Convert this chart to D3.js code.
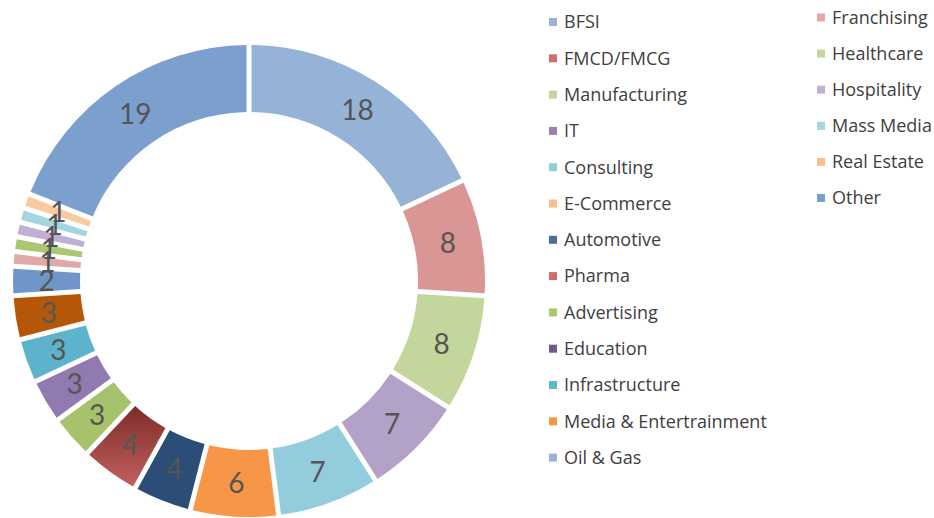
<!DOCTYPE html>
<html>
<head>
<meta charset="utf-8">
<script src="https://cdn.jsdelivr.net/npm/d3@7"></script>
<style>
  body { margin: 0; background: #fff; }
  text { font-family: Lato, "Open Sans", sans-serif; }
</style>
</head>
<body>
<div id="chart"></div>
<script>
// Chart data
const categories = ["BFSI", "FMCD/FMCG", "Manufacturing", "IT", "Consulting", "E-Commerce",
  "Automotive", "Pharma", "Advertising", "Education", "Infrastructure", "Media & Entertrainment",
  "Oil & Gas", "Franchising", "Healthcare", "Hospitality", "Mass Media", "Real Estate", "Other"];
const values = [18, 8, 8, 7, 7, 6, 4, 4, 3, 3, 3, 3, 2, 1, 1, 1, 1, 1, 19];

// slice fills and legend swatches don't match in the original, so keep both
const sliceColors = ["#95b3d7", "#d99694", "#c3d69b", "#b3a2c7", "#93cddd", "#f79646",
  "#2c4d75", "url(#pharmaGrad)", "#a6c36b", "#917aaf", "#5db3cb", "#b65708",
  "#7095c9", "#e0a9a8", "#a8c770", "#bfb0d4", "#a5d5e1", "#f9c9a0", "#7ba0cd"];
const legendColors = ["#95b3d7", "#d46b6a", "#c3d69b", "#9a80b7", "#93cddd", "#fabf8f",
  "#4a6c9c", "#d46b6a", "#a9c66c", "#6f5790", "#5bb6ce", "#f79646", "#95b3d7",
  "#e6a9a9", "#c3d69b", "#bfb0d4", "#a5d5e1", "#fabf8f", "#7ba0cd"];

const width = 934;
const height = 518;

const svg = d3.select("#chart")
    .append("svg")
    .attr("width", width)
    .attr("height", height);

// gradient on the Pharma slice
const grad = svg.append("defs").append("linearGradient")
    .attr("id", "pharmaGrad")
    .attr("x1", 0).attr("y1", 0).attr("x2", 0).attr("y2", 1);
grad.append("stop").attr("offset", "0%").attr("stop-color", "#7d2c2a");
grad.append("stop").attr("offset", "100%").attr("stop-color", "#c2605e");

const cx = 249, cy = 281;
const outerR = 236, innerR = 169;

const pie = d3.pie().sort(null).value(d => d.value);
const arc = d3.arc()
    .innerRadius(innerR)
    .outerRadius(outerR)
    .padAngle(0.025)
    .padRadius(200);

const data = categories.map((c, i) => ({ name: c, value: values[i], color: sliceColors[i] }));
const arcs = pie(data);

const g = svg.append("g").attr("transform", `translate(${cx},${cy})`);

g.selectAll("path")
    .data(arcs)
    .enter().append("path")
    .attr("d", arc)
    .attr("fill", d => d.data.color);

// value labels at the middle of the ring
const labelArc = d3.arc().innerRadius((innerR + outerR) / 2).outerRadius((innerR + outerR) / 2);
g.selectAll("text.val")
    .data(arcs)
    .enter().append("text")
    .attr("class", "val")
    .attr("transform", d => `translate(${labelArc.centroid(d)})`)
    .attr("text-anchor", "middle")
    .attr("dy", "0.36em")
    .style("font-size", "28px")
    .style("fill", "#555")
    .text(d => d.data.value);

// legend, two columns
const leftCount = 13;
const yLeft = d3.scaleLinear().domain([0, 1]).range([22, 58.3]);
const yRight = d3.scaleLinear().domain([0, 1]).range([17.5, 53.6]);

const legend = svg.append("g");
categories.forEach((c, i) => {
    const left = i < leftCount;
    const row = left ? i : i - leftCount;
    const y = left ? yLeft(row) : yRight(row);
    const sx = left ? 549 : 817;
    legend.append("rect")
        .attr("x", sx)
        .attr("y", y - 4)
        .attr("width", 8)
        .attr("height", 8)
        .attr("fill", legendColors[i]);
    legend.append("text")
        .attr("x", sx + 15)
        .attr("y", y)
        .attr("dy", "0.35em")
        .style("font-family", "'Open Sans', sans-serif")
        .style("font-size", "18px")
        .style("fill", "#404040")
        .text(c);
});
</script>
</body>
</html>
